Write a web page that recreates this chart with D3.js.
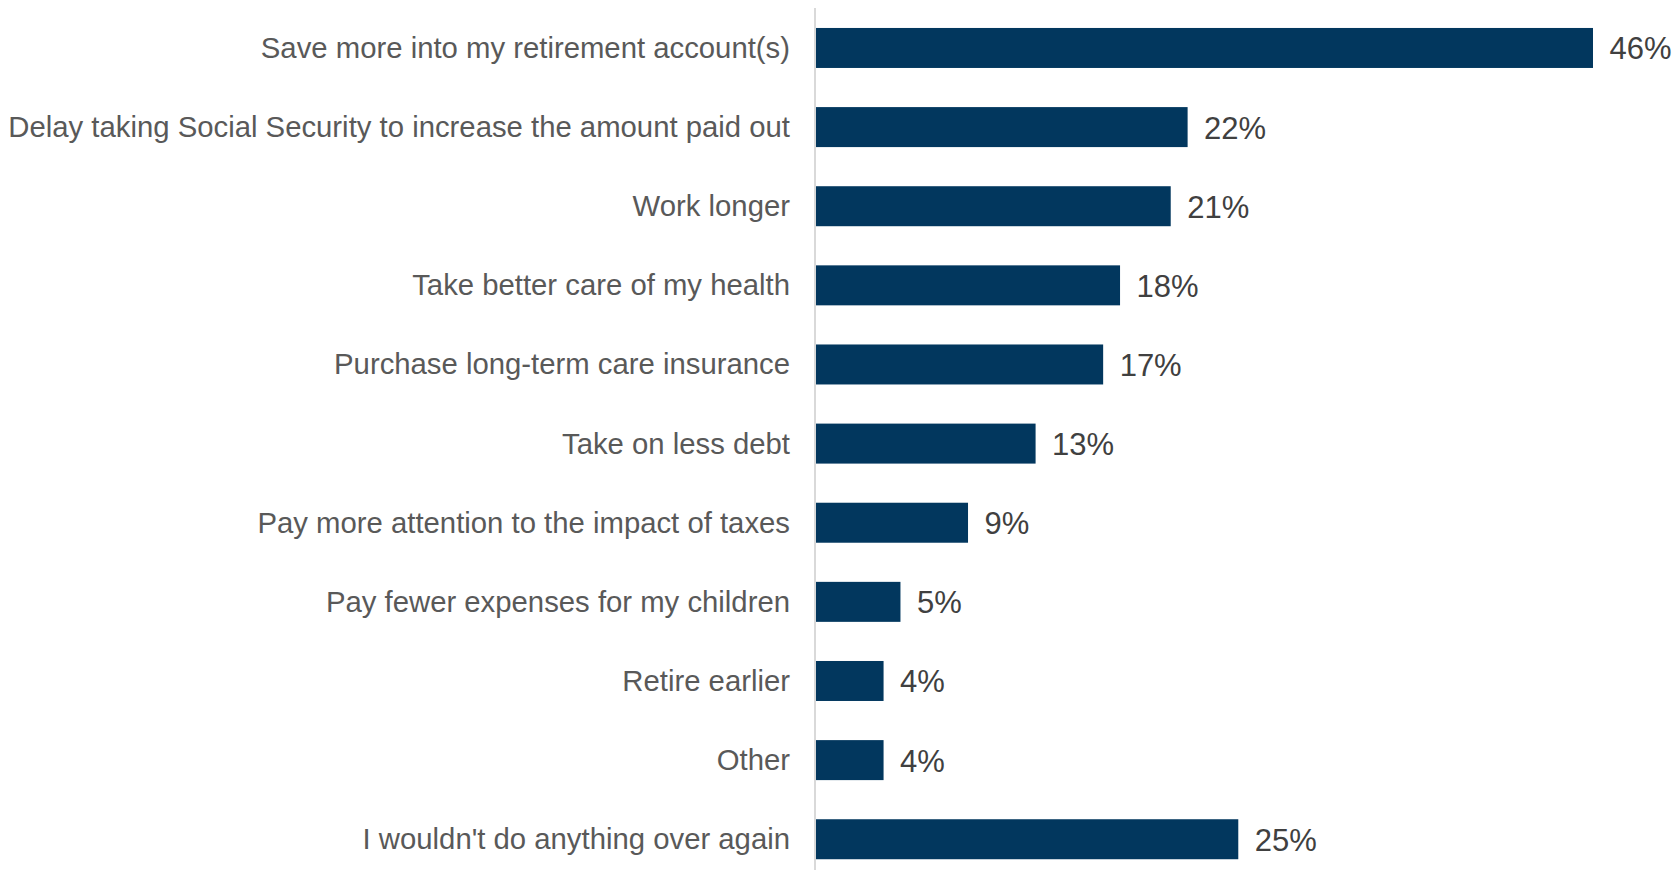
<!DOCTYPE html>
<html>
<head>
<meta charset="utf-8">
<script src="https://cdn.jsdelivr.net/npm/d3@7"></script>
<style>
  html, body { margin: 0; padding: 0; background: #ffffff; }
  svg { display: block; }
</style>
</head>
<body>
<svg id="chart" width="1674" height="870"></svg>
<script>
// Survey answers and the share of respondents choosing each one (%)
const categories = [
  "Save more into my retirement account(s)",
  "Delay taking Social Security to increase the amount paid out",
  "Work longer",
  "Take better care of my health",
  "Purchase long-term care insurance",
  "Take on less debt",
  "Pay more attention to the impact of taxes",
  "Pay fewer expenses for my children",
  "Retire earlier",
  "Other",
  "I wouldn't do anything over again"
];
const values = [46, 22, 21, 18, 17, 13, 9, 5, 4, 4, 25];

const W = 1674, H = 870;
const axisX = 815;
const svg = d3.select("#chart");

const x = d3.scaleLinear().domain([0, 46]).range([axisX + 1, 1593]);
const y = d3.scaleBand().domain(categories).range([8.4, 878.8]).paddingInner(0.4946).paddingOuter(0.2473);

const data = categories.map((c, i) => ({ c, v: values[i] }));

// Bars
svg.append("g").selectAll("rect").data(data).join("rect")
  .attr("x", x(0))
  .attr("y", d => y(d.c))
  .attr("width", d => x(d.v) - x(0))
  .attr("height", y.bandwidth())
  .attr("fill", "#02375e");

// Vertical baseline
svg.append("line")
  .attr("x1", axisX).attr("x2", axisX)
  .attr("y1", 8).attr("y2", H)
  .attr("stroke", "#d9d9d9").attr("stroke-width", 2);

// Category labels
svg.append("g").selectAll("text").data(data).join("text")
  .attr("x", 790)
  .attr("y", d => y(d.c) + y.bandwidth() / 2 + 10)
  .attr("text-anchor", "end")
  .attr("font-family", "Liberation Sans, Arial, sans-serif")
  .attr("font-size", 29.3)
  .attr("fill", "#595959")
  .text(d => d.c);

// Value labels
svg.append("g").selectAll("text").data(data).join("text")
  .attr("x", d => x(d.v) + 16.5)
  .attr("y", d => y(d.c) + y.bandwidth() / 2 + 11.5)
  .attr("font-family", "Liberation Sans, Arial, sans-serif")
  .attr("font-size", 31)
  .attr("fill", "#404040")
  .text(d => d.v + "%");
</script>
</body>
</html>
